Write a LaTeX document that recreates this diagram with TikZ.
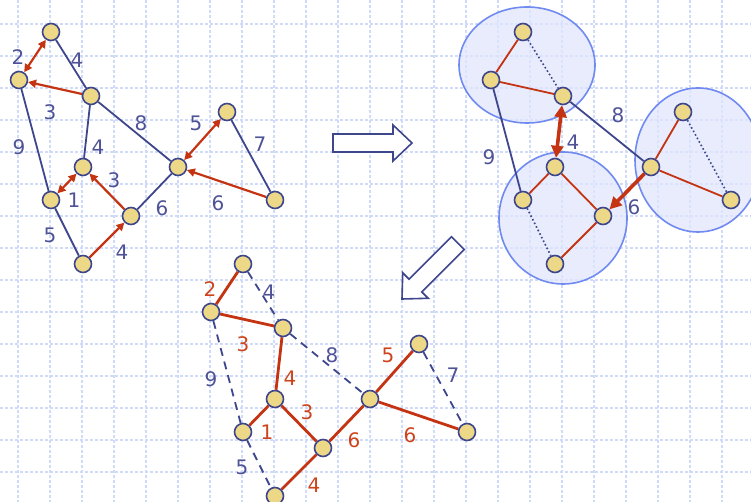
\documentclass[tikz,border=0pt]{standalone}
\usepackage{fontspec}
\setmainfont{DejaVu Sans}
\usetikzlibrary{arrows.meta}
\definecolor{gridc}{RGB}{208,218,249}
\definecolor{edgeb}{RGB}{62,70,140}
\definecolor{redc}{RGB}{196,52,18}
\definecolor{lblb}{RGB}{78,82,150}
\definecolor{lblr}{RGB}{205,68,28}
\definecolor{nodef}{RGB}{237,216,136}
\definecolor{clfill}{RGB}{224,230,252}
\definecolor{clline}{RGB}{112,138,240}
\pgfdeclarelayer{gridlayer}
\pgfdeclarelayer{cluslayer}
\pgfdeclarelayer{edgelayer}
\pgfsetlayers{gridlayer,cluslayer,edgelayer,main}
\tikzset{
  vtx/.style={circle,draw=edgeb,fill=nodef,line width=1.6pt,minimum size=17pt,inner sep=0pt},
  lb/.style={text=lblb,font=\fontsize{20}{20}\selectfont,inner sep=0pt},
  lr/.style={lb,text=lblr},
  be/.style={draw=edgeb,line width=1.8pt},
  bdot/.style={draw=edgeb,line width=1.6pt,dash pattern=on 1.6pt off 2.4pt},
  bdash/.style={draw=edgeb,line width=1.8pt,dash pattern=on 8pt off 6pt},
  re/.style={draw=redc,line width=1.8pt},
  rthick/.style={draw=redc,line width=2.8pt},
  ra/.style={draw=redc,line width=2.2pt,-{Triangle[length=8pt,width=8pt]}},
  rda/.style={draw=redc,line width=2.2pt,{Triangle[length=8pt,width=8pt]}-{Triangle[length=8pt,width=8pt]}},
  RA/.style={draw=redc,line width=3.6pt,-{Triangle[length=12pt,width=12pt]}},
  RDA/.style={draw=redc,line width=3.6pt,{Triangle[length=12pt,width=12pt]}-{Triangle[length=12pt,width=12pt]}},
  clus/.style={draw=clline,line width=1.6pt,fill=clfill,fill opacity=0.75},
  gridline/.style={draw=gridc,line width=1.3pt,dash pattern=on 3pt off 2pt},
  hollow/.style={draw=edgeb,line width=1.6pt,fill=white,line join=miter}
}
\begin{document}
\begin{tikzpicture}[x=1pt,y=-1pt]
\useasboundingbox (0,0) rectangle (751,502);
% grid
\begin{pgfonlayer}{gridlayer}
\foreach \gx in {18,50,...,740} \draw[gridline] (\gx,0) -- (\gx,502);
\foreach \gy in {24,56,...,500} \draw[gridline] (0,\gy) -- (751,\gy);
\end{pgfonlayer}

% ---------- top-left graph ----------
\node[vtx] (A) at (51,32) {};
\node[vtx] (B) at (19,80) {};
\node[vtx] (C) at (91,96) {};
\node[vtx] (D) at (227,112) {};
\node[vtx] (E) at (83,167) {};
\node[vtx] (F) at (178,167) {};
\node[vtx] (G) at (51,200) {};
\node[vtx] (H) at (131,216) {};
\node[vtx] (I) at (83,264) {};
\node[vtx] (J) at (275,200) {};
\begin{pgfonlayer}{edgelayer}
\draw[rda] (A) -- (B);
\draw[be] (A) -- (C);
\draw[ra] (C) -- (B);
\draw[be] (B) -- (G);
\draw[be] (C) -- (E);
\draw[be] (C) -- (F);
\draw[rda] (D) -- (F);
\draw[be] (D) -- (J);
\draw[rda] (E) -- (G);
\draw[ra] (H) -- (E);
\draw[be] (H) -- (F);
\draw[ra] (J) -- (F);
\draw[be] (G) -- (I);
\draw[ra] (I) -- (H);
\end{pgfonlayer}
\node[lb] (tl1) at (18,57) {2};
\node[lb] (tl2) at (77,60) {4};
\node[lb] (tl3) at (50,112) {3};
\node[lb] (tl4) at (19,147) {9};
\node[lb] (tl5) at (98,147) {4};
\node[lb] (tl6) at (141,123) {8};
\node[lb] (tl7) at (196,123) {5};
\node[lb] (tl8) at (260,144) {7};
\node[lb] (tl9) at (74,200) {1};
\node[lb] (tl10) at (114,180) {3};
\node[lb] (tl11) at (162,208) {6};
\node[lb] (tl12) at (218,203) {6};
\node[lb] (tl13) at (50,235) {5};
\node[lb] (tl14) at (122,252) {4};

% ---------- top-right graph ----------
\begin{pgfonlayer}{cluslayer}
\draw[clus] (527,65) ellipse [x radius=68, y radius=58];
\draw[clus] (563,218) ellipse [x radius=64, y radius=66];
\draw[clus] (698,160) ellipse [x radius=63, y radius=72];
\end{pgfonlayer}
\node[vtx] (a) at (523,32) {};
\node[vtx] (b) at (491,80) {};
\node[vtx] (c) at (563,96) {};
\node[vtx] (d) at (683,112) {};
\node[vtx] (e) at (555,167) {};
\node[vtx] (f) at (651,167) {};
\node[vtx] (g) at (523,200) {};
\node[vtx] (h) at (603,216) {};
\node[vtx] (i) at (555,264) {};
\node[vtx] (j) at (731,200) {};
\begin{pgfonlayer}{edgelayer}
\draw[re] (a) -- (b);
\draw[bdot] (a) -- (c);
\draw[re] (b) -- (c);
\draw[be] (b) -- (g);
\draw[RDA] (c) -- (e);
\draw[be] (c) -- (f);
\draw[re] (e) -- (g);
\draw[re] (e) -- (h);
\draw[bdot] (g) -- (i);
\draw[re] (i) -- (h);
\draw[re] (d) -- (f);
\draw[bdot] (d) -- (j);
\draw[re] (f) -- (j);
\draw[RA] (f) -- (h);
\end{pgfonlayer}
\node[lb] (tr1) at (489,157) {9};
\node[lb] (tr2) at (573,142) {4};
\node[lb] (tr3) at (618,115) {8};
\node[lb] (tr4) at (634,207) {6};

% ---------- bottom graph ----------
\begin{scope}[shift={(192,232)}]
\node[vtx] (A2) at (51,32) {};
\node[vtx] (B2) at (19,80) {};
\node[vtx] (C2) at (91,96) {};
\node[vtx] (D2) at (227,112) {};
\node[vtx] (E2) at (83,167) {};
\node[vtx] (F2) at (178,167) {};
\node[vtx] (G2) at (51,200) {};
\node[vtx] (H2) at (131,216) {};
\node[vtx] (I2) at (83,264) {};
\node[vtx] (J2) at (275,200) {};
\begin{pgfonlayer}{edgelayer}
\draw[rthick] (A2) -- (B2);
\draw[bdash] (A2) -- (C2);
\draw[rthick] (B2) -- (C2);
\draw[bdash] (B2) -- (G2);
\draw[rthick] (C2) -- (E2);
\draw[bdash] (C2) -- (F2);
\draw[rthick] (D2) -- (F2);
\draw[bdash] (D2) -- (J2);
\draw[rthick] (E2) -- (G2);
\draw[rthick] (H2) -- (E2);
\draw[rthick] (H2) -- (F2);
\draw[rthick] (J2) -- (F2);
\draw[bdash] (G2) -- (I2);
\draw[rthick] (I2) -- (H2);
\end{pgfonlayer}
\node[lr] (bl1) at (18,57) {2};
\node[lb] (bl2) at (77,60) {4};
\node[lr] (bl3) at (51,112) {3};
\node[lb] (bl4) at (19,147) {9};
\node[lr] (bl5) at (98,146) {4};
\node[lb] (bl6) at (140,123) {8};
\node[lr] (bl7) at (196,123) {5};
\node[lb] (bl8) at (261,143) {7};
\node[lr] (bl9) at (75,200) {1};
\node[lr] (bl10) at (115,180) {3};
\node[lr] (bl11) at (162,208) {6};
\node[lr] (bl12) at (218,203) {6};
\node[lb] (bl13) at (50,235) {5};
\node[lr] (bl14) at (122,253) {4};
\end{scope}

% ---------- hollow arrows ----------
\begin{scope}[shift={(412,143)}]
\draw[hollow] (-79,-9) -- (-19,-9) -- (-19,-18) -- (0,0) -- (-19,18) -- (-19,9) -- (-79,9) -- cycle;
\end{scope}
\begin{scope}[shift={(402,299)},rotate=225]
\draw[hollow] (-79,-9) -- (-19,-9) -- (-19,-18) -- (0,0) -- (-19,18) -- (-19,9) -- (-79,9) -- cycle;
\end{scope}
\end{tikzpicture}
\end{document}
